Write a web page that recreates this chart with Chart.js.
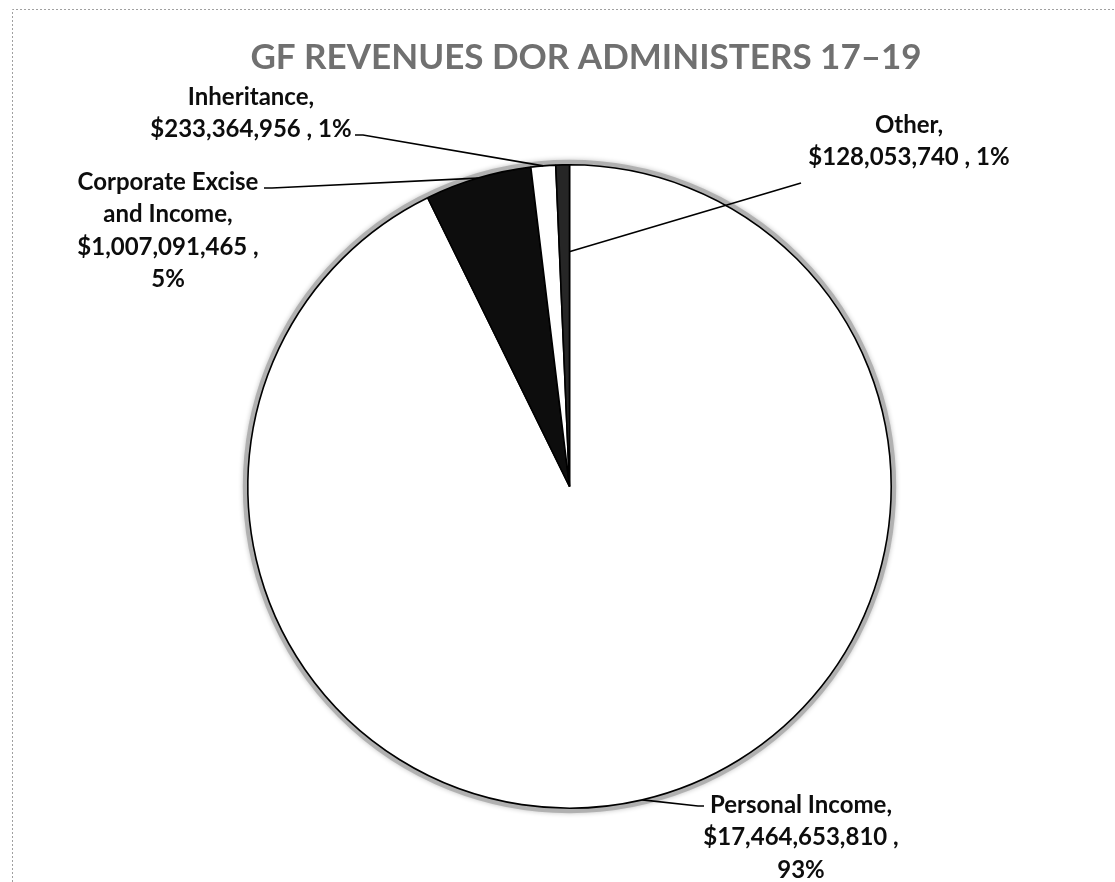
<!DOCTYPE html>
<html>
<head>
<meta charset="utf-8">
<script src="https://cdn.jsdelivr.net/npm/chart.js@4.4.0/dist/chart.umd.min.js"></script>
<style>
  html, body { margin: 0; padding: 0; background: #fff; }
  canvas { display: block; }
</style>
</head>
<body>
<canvas id="chart" width="1115" height="882"></canvas>
<script>
const chartTitle = 'GF REVENUES DOR ADMINISTERS 17–19';
const categories = ['Personal Income', 'Corporate Excise and Income', 'Inheritance', 'Other'];
const revenues = [17464653810, 1007091465, 233364956, 128053740];
const sliceColors = ['#ffffff', '#0d0d0d', '#ffffff', '#262626'];

// data label boxes: centre x, first line y, wrap width, where the leader
// leaves the text (plus a short horizontal elbow) and where it meets the slice
const labelPlacement = [
  { x: 801, y: 805, wrap: 205, tail: [704, 806], elbow: -6, along: 0.5, depth: 1 },
  { x: 168, y: 182, wrap: 195, tail: [264, 188], elbow: 8, along: 0.5, depth: 1 },
  { x: 251, y: 97, wrap: 212, tail: [355, 135], elbow: 8, along: 0.5, depth: 1 },
  { x: 909, y: 125, wrap: 212, tail: [801, 183], elbow: 0, along: 0.97, depth: 0.73 }
];

const LABEL_FONT = 'bold 24px Lato, "Open Sans", sans-serif';
const LINE_HEIGHT = 32.5;

const total = revenues.reduce((a, b) => a + b, 0);

function labelText(i) {
  const pct = Math.round(revenues[i] / total * 100);
  return `${categories[i]}, $${revenues[i].toLocaleString('en-US')} , ${pct}%`;
}

function wrapText(ctx, text, maxWidth) {
  const words = text.split(' ');
  const lines = [];
  let line = '';
  words.forEach(w => {
    const test = line ? line + ' ' + w : w;
    if (line && ctx.measureText(test).width > maxWidth) {
      lines.push(line);
      line = w;
    } else {
      line = test;
    }
  });
  if (line) lines.push(line);
  return lines;
}

const pieDecor = {
  id: 'pieDecor',
  beforeDraw(chart) {
    const { ctx, width, height } = chart;
    ctx.save();
    ctx.fillStyle = '#fff';
    ctx.fillRect(0, 0, width, height);
    // dotted page frame
    ctx.strokeStyle = '#a0a0a0';
    ctx.lineWidth = 1;
    ctx.setLineDash([2, 2]);
    ctx.beginPath();
    ctx.moveTo(12.5, height);
    ctx.lineTo(12.5, 9.5);
    ctx.lineTo(width, 9.5);
    ctx.stroke();
    ctx.restore();
  },
  beforeDatasetsDraw(chart) {
    // grey glow hugging the pie's rim
    const { ctx } = chart;
    const arc = chart.getDatasetMeta(0).data[0];
    const { x, y, outerRadius } = arc.getProps(['x', 'y', 'outerRadius'], true);
    ctx.save();
    ctx.strokeStyle = 'rgba(160, 160, 160, 0.7)';
    ctx.lineWidth = 5;
    ctx.shadowColor = 'rgba(0, 0, 0, 0.35)';
    ctx.shadowBlur = 5;
    ctx.beginPath();
    ctx.arc(x, y, outerRadius + 2.5, 0, Math.PI * 2);
    ctx.stroke();
    ctx.restore();
  },
  afterDatasetsDraw(chart) {
    const { ctx } = chart;
    const arcs = chart.getDatasetMeta(0).data;
    ctx.save();

    // title
    ctx.fillStyle = '#707070';
    ctx.font = 'bold 35px Lato, "Open Sans", sans-serif';
    ctx.textAlign = 'center';
    ctx.textBaseline = 'middle';
    ctx.fillText(chartTitle, 586, 58);

    // leader lines
    ctx.strokeStyle = '#000';
    ctx.lineWidth = 1.6;
    arcs.forEach((arc, i) => {
      const p = labelPlacement[i];
      const { x, y, startAngle, endAngle, outerRadius } =
        arc.getProps(['x', 'y', 'startAngle', 'endAngle', 'outerRadius'], true);
      const a = startAngle + (endAngle - startAngle) * p.along;
      const r = outerRadius * p.depth;
      ctx.beginPath();
      ctx.moveTo(p.tail[0], p.tail[1]);
      if (p.elbow) ctx.lineTo(p.tail[0] + p.elbow, p.tail[1]);
      ctx.lineTo(x + Math.cos(a) * r, y + Math.sin(a) * r);
      ctx.stroke();
    });

    // data labels
    ctx.fillStyle = '#0d0d0d';
    ctx.font = LABEL_FONT;
    arcs.forEach((arc, i) => {
      const p = labelPlacement[i];
      const lines = wrapText(ctx, labelText(i), p.wrap);
      lines.forEach((line, k) => ctx.fillText(line, p.x, p.y + k * LINE_HEIGHT));
    });
    ctx.restore();
  }
};

new Chart(document.getElementById('chart'), {
  type: 'pie',
  data: {
    labels: categories,
    datasets: [{
      data: revenues,
      backgroundColor: sliceColors,
      borderColor: '#000',
      borderWidth: 1.6
    }]
  },
  options: {
    responsive: false,
    animation: false,
    devicePixelRatio: 1,
    layout: { padding: { left: 247, right: 223, top: 164, bottom: 73 } },
    plugins: {
      legend: { display: false },
      tooltip: { enabled: false },
      title: { display: false }
    }
  },
  plugins: [pieDecor]
});
</script>
</body>
</html>
